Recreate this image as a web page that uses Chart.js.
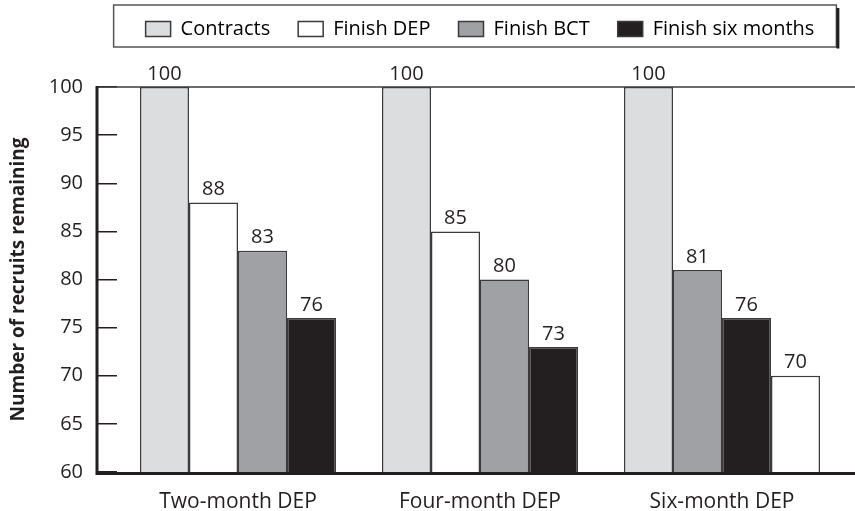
<!DOCTYPE html>
<html>
<head>
<meta charset="utf-8">
<script src="https://cdn.jsdelivr.net/npm/chart.js@4.4.1/dist/chart.umd.min.js"></script>
<style>
  html, body { margin: 0; padding: 0; background: #fff; }
  #wrap { width: 855px; height: 511px; }
</style>
</head>
<body>
<div id="wrap"><canvas id="chart" width="855" height="511"></canvas></div>
<script>
// --- data
const categories = ["Two-month DEP", "Four-month DEP", "Six-month DEP"];
const seriesNames = ["Contracts", "Finish DEP", "Finish BCT", "Finish six months"];
const contracts = [100, 100, 100];
const finishDEP = [88, 85, 70];
const finishBCT = [83, 80, 81];
const finishSix = [76, 73, 76];
// bar order inside each group (index into series), six-month group is sorted differently
const barOrder = [[0, 1, 2, 3], [0, 1, 2, 3], [0, 2, 3, 1]];
const yTicks = [60, 65, 70, 75, 80, 85, 90, 95, 100];

const INK = "#231f20";
const EDGE = "#3c3a3b";
const colors = ["#dcdddf", "#ffffff", "#a0a1a4", "#231f20"];
const seriesValues = [contracts, finishDEP, finishBCT, finishSix];
const FONT = "'Open Sans', 'Noto Sans', sans-serif";

// build one dataset per slot, colours follow the series that sits in that slot
const datasets = [0, 1, 2, 3].map(slot => ({
  label: "slot" + slot,
  data: categories.map((c, i) => seriesValues[barOrder[i][slot]][i]),
  backgroundColor: categories.map((c, i) => colors[barOrder[i][slot]]),
  borderColor: EDGE,
  borderWidth: 1.5,
  borderSkipped: false,
  categoryPercentage: 0.81,
  barPercentage: 1.0,
}));

// value labels above bars
const valueLabels = {
  id: "valueLabels",
  afterDatasetsDraw(chart) {
    const ctx = chart.ctx;
    ctx.save();
    ctx.font = "20px " + FONT;
    ctx.fillStyle = INK;
    ctx.textAlign = "center";
    ctx.textBaseline = "bottom";
    chart.data.datasets.forEach((ds, di) => {
      chart.getDatasetMeta(di).data.forEach((el, i) => {
        ctx.fillText(String(ds.data[i]), el.x, el.y - 3);
      });
    });
    ctx.restore();
  }
};

// axis frame: thick left + bottom, thin top line, legend frame
const frame = {
  id: "frame",
  afterDatasetsDraw(chart) {
    const { ctx, chartArea: a, width } = chart;
    const axisX = a.left - 20;
    ctx.save();
    ctx.strokeStyle = EDGE;
    ctx.lineWidth = 1.5;
    ctx.beginPath();
    ctx.moveTo(axisX, a.top);
    ctx.lineTo(width, a.top);
    ctx.stroke();
    ctx.strokeStyle = INK;
    ctx.lineWidth = 3;
    ctx.beginPath();
    ctx.moveTo(axisX, a.top - 1);
    ctx.lineTo(axisX, a.bottom + 1.5);
    ctx.lineTo(width, a.bottom + 1.5);
    ctx.stroke();
    ctx.restore();
  },
  afterDraw(chart) {
    const boxes = chart.legend.legendHitBoxes;
    if (!boxes || !boxes.length) return;
    const left = Math.min(...boxes.map(b => b.left)) - 32;
    const right = Math.max(...boxes.map(b => b.left + b.width)) + 22;
    const ctx = chart.ctx;
    ctx.save();
    ctx.strokeStyle = "#555";
    ctx.lineWidth = 1.5;
    ctx.strokeRect(left, 5, right - left, 42);
    ctx.strokeStyle = INK;
    ctx.lineWidth = 3;
    ctx.beginPath();
    ctx.moveTo(right + 1.5, 8);
    ctx.lineTo(right + 1.5, 48.5);
    ctx.stroke();
    ctx.restore();
  }
};

new Chart(document.getElementById("chart"), {
  type: "bar",
  data: { labels: categories, datasets },
  options: {
    responsive: false,
    animation: false,
    layout: { padding: { top: -9, right: 12, left: 0, bottom: 0 } },
    plugins: {
      tooltip: { enabled: false },
      title: { display: true, text: "", font: { size: 10 }, padding: { top: 0, bottom: 26 } },
      legend: {
        position: "top",
        fullSize: false,
        weight: 3000,
        labels: {
          font: { family: FONT, size: 20 },
          color: INK,
          boxWidth: 25,
          boxHeight: 15,
          padding: 28,
          generateLabels: () => seriesNames.map((n, i) => ({
            text: n,
            fillStyle: colors[i],
            strokeStyle: EDGE,
            lineWidth: 1.5,
            hidden: false,
            datasetIndex: i,
          })),
        },
        onClick: () => {},
      },
    },
    scales: {
      x: {
        grid: { display: false },
        border: { display: false },
        ticks: { font: { family: FONT, size: 21 }, color: INK, padding: 9 },
        afterFit: s => { s.height = 39; },
      },
      y: {
        min: 60,
        max: 100,
        afterBuildTicks: s => { s.ticks = yTicks.map(v => ({ value: v })); },
        grid: { drawOnChartArea: false, drawTicks: true, tickLength: 20, color: INK, lineWidth: 1.5 },
        border: { display: false },
        ticks: { font: { family: FONT, size: 20 }, color: INK, padding: 14 },
        title: {
          display: true,
          text: "Number of recruits remaining",
          font: { family: FONT, size: 19, weight: "bold" },
          color: INK,
          padding: { top: 7, bottom: 0 },
        },
        afterFit: s => { s.width = 117; },
      },
    },
  },
  plugins: [valueLabels, frame],
});
</script>
</body>
</html>
